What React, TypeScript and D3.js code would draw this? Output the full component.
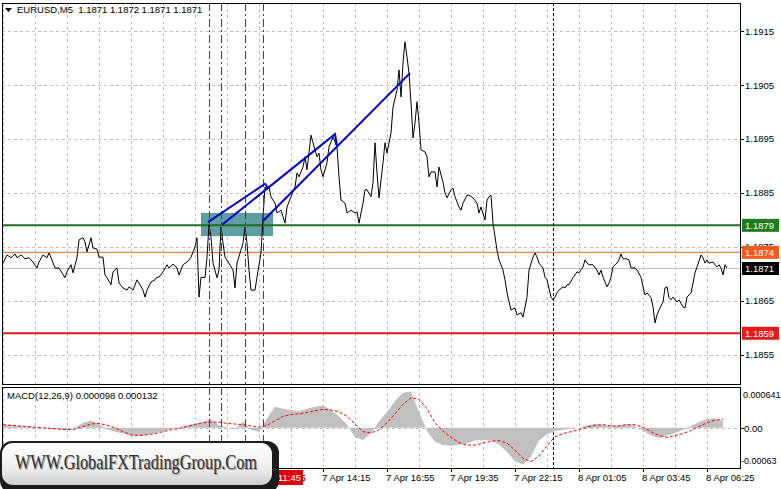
import React from "react";
import * as d3 from "d3";

// EURUSD M5 close readings: bar number (5 min bars from 7 Apr 00:55) and close price
const closeBars = [
  0, 2, 4, 6, 7, 9, 11, 13, 15, 17, 18, 20, 22, 23, 24, 26, 28, 31, 32, 34, 35, 37, 38, 40, 41, 42, 44, 45, 47, 48,
  50, 51, 52, 54, 55, 57, 58, 60, 62, 63, 65, 67, 68, 70, 71, 72, 74, 76, 77, 78, 80, 82, 83, 85, 87, 88, 90, 92, 93, 94,
  96, 97, 98, 99, 101, 102, 103, 104, 105, 107, 108, 109, 110, 111, 113, 115, 116, 117, 120, 121, 122, 123, 124, 126, 127, 129, 130,
  131, 132, 133, 134, 136, 137, 139, 141, 142, 144, 146, 147, 148, 150, 151, 152, 154, 155, 157, 158, 159, 160, 162, 163, 165,
  167, 168, 169, 171, 172, 174, 176, 177, 178, 180, 181, 182, 184, 185, 186, 187, 188, 190, 191, 192, 194, 195, 197, 198, 199,
  200, 201, 202, 203, 204, 205, 206, 207, 208, 209, 211, 212, 213, 214, 216, 217, 218, 220, 221, 222, 224, 225, 226, 228, 229,
  230, 232, 233, 235, 237, 238, 239, 241, 242, 243, 244, 245, 247, 248, 250, 251, 252, 254, 256, 257, 259, 260, 262, 263, 265,
  266, 267, 268, 270, 271, 272, 274, 275, 276, 277, 278, 280, 281, 282, 283, 285, 286, 287, 288, 290, 291, 292, 293, 295, 297,
  298, 299, 300, 302, 303, 304, 305, 307, 308, 309, 310, 312, 313, 314, 316, 317, 319, 320, 321, 322, 324, 325, 326, 327, 328,
  330, 331, 332, 333, 334, 335, 337, 338, 340, 341, 342, 344, 345, 346, 347, 349, 350, 351, 352, 353, 355, 356, 357, 358, 359,
  360, 361, 362,
];
const closePrices = [
  1.1872, 1.18735, 1.1873, 1.18737, 1.1873, 1.18735, 1.18728, 1.1873, 1.18722, 1.18711, 1.18722, 1.18735, 1.1873, 1.18739, 1.1873,
  1.18711, 1.18711, 1.18693, 1.18704, 1.18717, 1.18702, 1.1873, 1.18763, 1.18767, 1.18759, 1.18741, 1.18767, 1.18748, 1.18746, 1.18731,
  1.18731, 1.18698, 1.18693, 1.1868, 1.18704, 1.18711, 1.18683, 1.18674, 1.1867, 1.18676, 1.1867, 1.18689, 1.18683, 1.1867, 1.18657,
  1.1867, 1.18685, 1.18689, 1.18694, 1.18694, 1.18704, 1.18717, 1.18711, 1.18718, 1.18711, 1.18698, 1.18717, 1.18722, 1.18726, 1.18731,
  1.1875, 1.18767, 1.18657, 1.18694, 1.18693, 1.18731, 1.18791, 1.18768, 1.1872, 1.18693, 1.18707, 1.18787, 1.18757, 1.18731, 1.1872,
  1.18707, 1.18674, 1.1872, 1.18757, 1.18787, 1.18757, 1.18707, 1.1867, 1.1867, 1.18694, 1.18739, 1.18806,
  1.18861, 1.18856, 1.18861, 1.18843, 1.18831, 1.18813, 1.18818, 1.18794, 1.18824, 1.18843, 1.18861, 1.18887, 1.1888, 1.18898, 1.18917,
  1.18893, 1.18957, 1.18943, 1.18917, 1.18924, 1.18893, 1.1888, 1.18906, 1.18935, 1.18954,
  1.18935, 1.1888, 1.18837, 1.18831, 1.18813, 1.18818, 1.18813, 1.18815, 1.18794, 1.18831, 1.18856, 1.18856, 1.18843, 1.18869, 1.18943,
  1.18887, 1.18841, 1.18906, 1.18943, 1.18924, 1.18961, 1.19009, 1.19041, 1.19078, 1.19028,
  1.19091, 1.1913, 1.19102, 1.19072, 1.19017, 1.18952, 1.1898, 1.19019, 1.1898, 1.1893, 1.18926, 1.18917, 1.1888, 1.18889, 1.18889,
  1.18861, 1.18898, 1.1887, 1.1885, 1.18841, 1.18856, 1.18859, 1.18843, 1.18824, 1.18818,
  1.18831, 1.18846, 1.18846, 1.18841, 1.18831, 1.18813, 1.18824, 1.188, 1.18837, 1.18843, 1.18846, 1.18794, 1.18744, 1.18726, 1.18707,
  1.18689, 1.18665, 1.18633, 1.18637, 1.18624, 1.18628, 1.1862, 1.18657, 1.18707, 1.18731,
  1.18739, 1.18731, 1.1872, 1.18711, 1.18694, 1.18689, 1.18657, 1.18652, 1.18657, 1.18665, 1.1867, 1.18676, 1.18674, 1.1868, 1.1868,
  1.18693, 1.18698, 1.18704, 1.18702, 1.18713, 1.18726, 1.1872, 1.18717, 1.18717, 1.18707,
  1.18698, 1.18707, 1.18694, 1.18676, 1.18683, 1.18694, 1.18713, 1.1872, 1.18726, 1.18737, 1.18728, 1.18728, 1.18726, 1.18711, 1.18711,
  1.18707, 1.18694, 1.18676, 1.18661, 1.18665, 1.18656, 1.18639, 1.18609, 1.18624, 1.18633,
  1.18648, 1.18674, 1.18676, 1.18656, 1.18652, 1.18657, 1.18648, 1.18652, 1.18639, 1.18637, 1.18657, 1.18665, 1.18683, 1.18702, 1.18713,
  1.18735, 1.1873, 1.1872, 1.18726, 1.1872, 1.18722, 1.18717, 1.18713, 1.18717, 1.18711,
  1.18698, 1.18717, 1.18711,
];

// MACD(12,26,9), one reading every 4 bars (x 1e-5)
const macdStep = 4;
const macdHist = [
  5, 4, 3, 2, 1, 0, -1, -2, -3, 0, 8, 11, 6, -2, -6, -9, -12, -13, -11, -8, -5, -2, 1, 4, 7, 9, 14, 4, 1, -2,
  10, -3, -6, 15, 33, 30, 28, 26, 30, 33, 35, 28, 18, 5, -15, -19, -8, 10, 25, 42, 55, 57, 25, -5, -22, -27, -28, -27, -24, -20,
  -19, -20, -26, -38, -52, -58, -45, -20, -10, -5, -3, -1, 0, 4, 6, 5, 2, 4, 6, 3, -5, -12, -16, -12, -8, -3, 3, 9, 14, 15, 10,
];
const macdSignal = [
  5, 4, 3, 2, 1, 0, -1, -2, -3, -2, 2, 6, 7, 4, 0, -6, -11, -12, -11, -9, -6, -3, -1, 2, 5, 8, 9, 9, 7, 6,
  5, 3, 1, 4, 11, 18, 21, 22, 24, 27, 29, 28, 25, 18, 6, -6, -8, -3, 8, 22, 37, 47, 45, 30, 8, -5, -15, -23, -27, -27,
  -24, -21, -20, -24, -35, -48, -53, -44, -28, -14, -9, -6, -3, 1, 4, 5, 3, 3, 5, 5, 1, -6, -12, -15, -12, -9, -4, 2, 8, 12, 13,
];

const priceTicks = [1.1915, 1.1905, 1.1895, 1.1885, 1.1875, 1.1865, 1.1855];
const macdTickLabels = ["0.000641", "0.00", "-0.00063"];
const timeTickBars = [128, 160, 192, 224, 256, 288, 320, 352];
const timeTickLabels = [
  "7 Apr 11:35", "7 Apr 14:15", "7 Apr 16:55", "7 Apr 19:35",
  "7 Apr 22:15", "8 Apr 01:05", "8 Apr 03:45", "8 Apr 06:25",
];

const resistance = 1.1879;
const entryLevel = 1.1874;
const bidLevel = 1.1871;
const support = 1.1859;

const signalBars = [103, 109, 121, 130];
const daySeparatorBar = 275;
const zoneBars = [99, 135];
const zonePrices = [1.1877, 1.18813];
// drawn trend lines: [bar, price] points
const trendLines: [number, number][][] = [
  [[102.5, 1.18796], [131, 1.18867], [132.5, 1.18859]],
  [[109.5, 1.18791], [166, 1.18959], [167, 1.18937]],
  [[130, 1.18798], [203.5, 1.19072]],
];

const FONT = "'Liberation Sans', Arial, sans-serif";

const App = () => {
  const width = 781;
  const height = 489;
  const left = 2;
  const right = 740;
  const mainTop = 3;
  const mainBottom = 384;
  const macdTop = 387;
  const macdBottom = 468;

  const x = d3.scaleLinear().domain([0, 362]).range([3, 727]);
  const y = d3.scaleLinear().domain([1.18496, 1.19202]).range([mainBottom, mainTop]);
  const ym = d3.scaleLinear().domain([-0.00063, 0.000641]).range([macdBottom, macdTop]);

  const priceLine = d3
    .line<number>()
    .x((_, i) => x(closeBars[i]))
    .y((d) => y(d));

  const histArea = d3
    .area<number>()
    .x((_, i) => x(i * macdStep))
    .y0(ym(0))
    .y1((d) => ym(d * 1e-5));

  const signalLine = d3
    .line<number>()
    .x((_, i) => x(i * macdStep))
    .y((d) => ym(d * 1e-5));

  const trendPath = d3
    .line<[number, number]>()
    .x((d) => x(d[0]))
    .y((d) => y(d[1]));

  const gridBars = d3.range(0, 362, 16);

  const priceBox = (value: number, fill: string) => (
    <g key={"box" + value}>
      <rect x={742} y={y(value) - 6.5} width={37} height={13} fill={fill} />
      <text x={745} y={y(value) + 3.5} fill="#fff" fontSize={9.5} fontFamily={FONT}>
        {value.toFixed(4)}
      </text>
    </g>
  );

  return (
    <svg
      width={width}
      height={height}
      style={{ position: "absolute", left: 0, top: 0, background: "#fff" }}
    >
      <defs>
        <clipPath id="mainClip">
          <rect x={left} y={mainTop} width={right - left} height={mainBottom - mainTop} />
        </clipPath>
        <clipPath id="macdClip">
          <rect x={left} y={macdTop} width={right - left} height={macdBottom - macdTop} />
        </clipPath>
        <linearGradient id="logoGrad" x1="0" y1="0" x2="0" y2="1">
          <stop offset="0" stopColor="#ffffff" />
          <stop offset="0.6" stopColor="#eeeeee" />
          <stop offset="1" stopColor="#cfcfcf" />
        </linearGradient>
      </defs>

      {/* grid */}
      <g stroke="#c0c0c0" strokeDasharray="3,3" strokeWidth={1}>
        {gridBars.map((b) => (
          <g key={"vg" + b}>
            <line x1={x(b) + 0.5} x2={x(b) + 0.5} y1={mainTop} y2={mainBottom} />
            <line x1={x(b) + 0.5} x2={x(b) + 0.5} y1={macdTop} y2={macdBottom} />
          </g>
        ))}
        {priceTicks.map((p) => (
          <line key={"hg" + p} x1={left} x2={right} y1={Math.round(y(p)) + 0.5} y2={Math.round(y(p)) + 0.5} />
        ))}
        <line x1={left} x2={right} y1={Math.round(ym(0)) + 0.5} y2={Math.round(ym(0)) + 0.5} />
      </g>

      {/* zone rectangle */}
      <rect
        x={x(zoneBars[0])}
        y={y(zonePrices[1])}
        width={x(zoneBars[1]) - x(zoneBars[0])}
        height={y(zonePrices[0]) - y(zonePrices[1])}
        fill="#5f9ea0"
      />

      {/* horizontal levels */}
      <g clipPath="url(#mainClip)">
        <line x1={left} x2={right} y1={y(bidLevel)} y2={y(bidLevel)} stroke="#c0c0c0" strokeWidth={1} />
        <line x1={left} x2={right} y1={y(entryLevel)} y2={y(entryLevel)} stroke="#d2691e" strokeWidth={1} />
        <line x1={left} x2={right} y1={y(resistance)} y2={y(resistance)} stroke="#1e6e1e" strokeWidth={2} />
        <line x1={left} x2={right} y1={y(support)} y2={y(support)} stroke="#e01818" strokeWidth={2} />
      </g>

      <line x1={x(daySeparatorBar) + 0.5} x2={x(daySeparatorBar) + 0.5} y1={mainTop} y2={mainBottom} stroke="#000" strokeDasharray="3,2" />
      <line x1={x(daySeparatorBar) + 0.5} x2={x(daySeparatorBar) + 0.5} y1={macdTop} y2={macdBottom} stroke="#000" strokeDasharray="3,2" />

      {/* price */}
      <g clipPath="url(#mainClip)">
        <path d={priceLine(closePrices) || ""} fill="none" stroke="#000" strokeWidth={1} />
      </g>

      {/* MACD */}
      <g clipPath="url(#macdClip)">
        <path d={histArea(macdHist) || ""} fill="#c0c0c0" />
        <path
          d={signalLine(macdSignal) || ""}
          fill="none"
          stroke="#ff0000"
          strokeWidth={1}
          strokeDasharray="3,2"
        />
      </g>

      {/* vertical markers, drawn over the price */}
      {signalBars.map((b) => (
        <g key={"sv" + b}>
          <line x1={x(b) + 0.5} x2={x(b) + 0.5} y1={mainTop} y2={mainBottom} stroke="#e00000" strokeWidth={1} strokeDasharray="8,3,2,3" />
          <line x1={x(b) + 0.5} x2={x(b) + 0.5} y1={macdTop} y2={macdBottom} stroke="#e00000" strokeWidth={1} strokeDasharray="8,3,2,3" />
        </g>
      ))}

      {/* trend lines */}
      <g clipPath="url(#mainClip)">
        {trendLines.map((t, i) => (
          <path key={"tl" + i} d={trendPath(t) || ""} fill="none" stroke="#0000cd" strokeWidth={2} />
        ))}
      </g>

      {/* frames */}
      <rect x={left + 0.5} y={mainTop + 0.5} width={right - left} height={mainBottom - mainTop} fill="none" stroke="#000" />
      <rect x={left + 0.5} y={macdTop + 0.5} width={right - left} height={macdBottom - macdTop} fill="none" stroke="#000" />

      {/* right price axis */}
      <g fontFamily={FONT} fontSize={9.5} fill="#000">
        {priceTicks.map((p) => (
          <g key={"pt" + p}>
            <line x1={right} x2={right + 4} y1={Math.round(y(p)) + 0.5} y2={Math.round(y(p)) + 0.5} stroke="#000" />
            <text x={745} y={y(p) + 3.5}>{p.toFixed(4)}</text>
          </g>
        ))}
        <text x={743} y={398} fontSize={9}>{macdTickLabels[0]}</text>
        <text x={744} y={431.5}>{macdTickLabels[1]}</text>
        <text x={741} y={464} fontSize={9}>{macdTickLabels[2]}</text>
        <line x1={right} x2={right + 4} y1={ym(0) + 0.5} y2={ym(0) + 0.5} stroke="#000" />
      </g>
      {priceBox(resistance, "#1e7e1e")}
      {priceBox(entryLevel, "#f25a1e")}
      {priceBox(bidLevel, "#000")}
      {priceBox(support, "#e31b1b")}

      {/* time axis */}
      <g fontFamily={FONT} fontSize={9.5} fill="#000">
        {timeTickBars.map((b, i) => (
          <g key={"tt" + b}>
            <line x1={x(b) + 0.5} x2={x(b) + 0.5} y1={macdBottom} y2={macdBottom + 4} stroke="#000" />
            <text x={x(b) - 1} y={481}>{timeTickLabels[i]}</text>
          </g>
        ))}
      </g>

      {/* titles */}
      <polygon points="5,8 12,8 8.5,12" fill="#000" />
      <text x={17} y={13} fontFamily={FONT} fontSize={9.5} fill="#000" xmlSpace="preserve">
        {"EURUSD,M5  1.1871 1.1872 1.1871 1.1871"}
      </text>
      <text x={7} y={399} fontFamily={FONT} fontSize={9.5} fill="#000">
        MACD(12,26,9) 0.000098 0.000132
      </text>

      {/* time marker */}
      <rect x={276} y={470} width={27} height={15} fill="#e00000" />
      <text x={278} y={481} fontFamily={FONT} fontSize={9.5} fill="#fff">11:45</text>

      {/* logo */}
      <rect x={0} y={441} width={279} height={52} rx={12} fill="#1b1b1b" />
      <rect x={2} y={443} width={270} height={42} rx={11} fill="url(#logoGrad)" />
      <text
        x={16}
        y={470}
        fontFamily="'Liberation Serif', 'Times New Roman', serif"
        fontSize={21}
        textLength={242}
        lengthAdjust="spacingAndGlyphs"
        fill="#9a9a9a"
      >
        WWW.GlobalFXTradingGroup.Com
      </text>
      <text
        x={15}
        y={469}
        fontFamily="'Liberation Serif', 'Times New Roman', serif"
        fontSize={21}
        textLength={242}
        lengthAdjust="spacingAndGlyphs"
        fill="#333"
      >
        WWW.GlobalFXTradingGroup.Com
      </text>
    </svg>
  );
};

export default App;
